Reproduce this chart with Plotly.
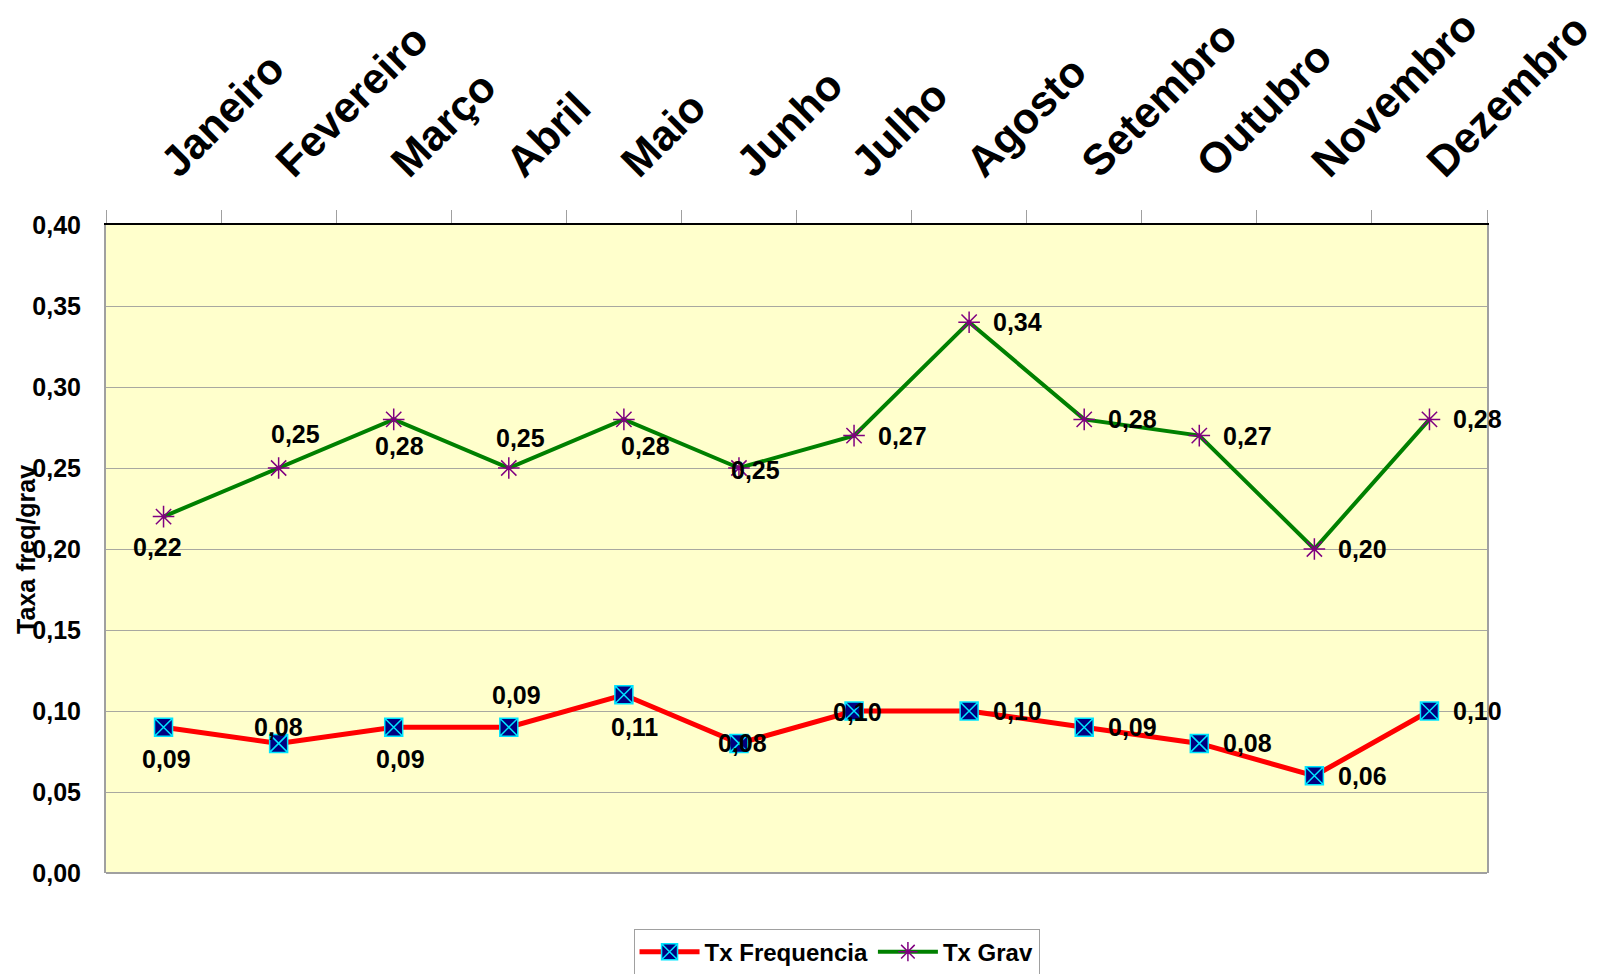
import plotly.graph_objects as go

months = ["Janeiro", "Fevereiro", "Março", "Abril", "Maio", "Junho", "Julho",
          "Agosto", "Setembro", "Outubro", "Novembro", "Dezembro"]
tx_frequencia = [0.09, 0.08, 0.09, 0.09, 0.11, 0.08, 0.10, 0.10, 0.09, 0.08, 0.06, 0.10]
tx_grav = [0.22, 0.25, 0.28, 0.25, 0.28, 0.25, 0.27, 0.34, 0.28, 0.27, 0.20, 0.28]

# label offsets (px) relative to the marker: (dx, dy), dy positive = down
freq_label_off = [(3, 32), (0, -16), (7, 32), (8, -32), (11, 32), (4, 0), (3, 1),
                  (48, 0), (48, 0), (48, 0), (48, 0), (48, 0)]
grav_label_off = [(-6, 30), (17, -34), (6, 27), (12, -30), (22, 27), (17, 2), (48, 0),
                  (48, 0), (48, 0), (48, 0), (48, 0), (48, 0)]

FONT = "Liberation Sans, Arial, sans-serif"

fig = go.Figure()
fig.add_trace(go.Scatter(
    x=months, y=tx_frequencia, name="Tx Frequencia", mode="lines+markers",
    line=dict(color="#FF0000", width=5),
    marker=dict(symbol="square-x", size=18, color="#000080",
                line=dict(color="#00E5FF", width=1.5)),
))
fig.add_trace(go.Scatter(
    x=months, y=tx_grav, name="Tx Grav", mode="lines+markers",
    line=dict(color="#008000", width=4),
    marker=dict(symbol="asterisk-open", size=18, color="#800080",
                line=dict(color="#800080", width=1.5)),
))

def fmt(v):
    return f"{v:.2f}".replace(".", ",")

annotations = []
for series, offs in ((tx_frequencia, freq_label_off), (tx_grav, grav_label_off)):
    for m, v, (dx, dy) in zip(months, series, offs):
        annotations.append(dict(
            x=m, y=v, xref="x", yref="y", text=fmt(v), showarrow=False,
            xshift=dx, yshift=-dy, xanchor="center", yanchor="middle",
            font=dict(family=FONT, size=25, color="black", weight="bold"),
        ))

annotations.append(dict(
    x=-0.058, y=0.5, xref="paper", yref="paper", text="Taxa freq/grav",
    textangle=-90, showarrow=False, xanchor="center", yanchor="middle",
    font=dict(family=FONT, size=25, color="black", weight="bold"),
))

fig.update_layout(
    width=1594, height=966,
    margin=dict(l=98, r=115, t=217, b=101, autoexpand=False),
    paper_bgcolor="white", plot_bgcolor="#FFFFCC",
    separators=",.",
    font=dict(family=FONT, color="black"),
    showlegend=True,
    legend=dict(orientation="h", x=0.529, xanchor="center",
                yref="container", y=0.047, yanchor="top",
                bgcolor="white", bordercolor="#A0A0A0", borderwidth=1,
                font=dict(family=FONT, size=24, color="black", weight="bold"),
                itemwidth=60, tracegroupgap=20),
    annotations=annotations,
)
fig.update_xaxes(
    side="top", type="category", showgrid=False, automargin=False,
    range=[-0.5, len(months) - 0.5],
    showline=True, linecolor="black", linewidth=2,
    ticks="outside", tickson="boundaries", ticklen=13, tickcolor="#A0A0A0", tickwidth=1,
    tickangle=-45, ticklabelstandoff=20,
    tickfont=dict(family=FONT, size=43, color="black", weight="bold"),
)
fig.update_yaxes(
    range=[0, 0.4], dtick=0.05, tickformat=".2f", automargin=False,
    showgrid=True, gridcolor="#A8A8A0", gridwidth=1,
    zeroline=True, zerolinecolor="#A0A0A0", zerolinewidth=2,
    showline=True, linecolor="#A0A0A0", linewidth=2, mirror=True,
    ticks="", ticklabelstandoff=18,
    tickfont=dict(family=FONT, size=25, color="black", weight="bold"),
)

fig.write_html("out.html")
